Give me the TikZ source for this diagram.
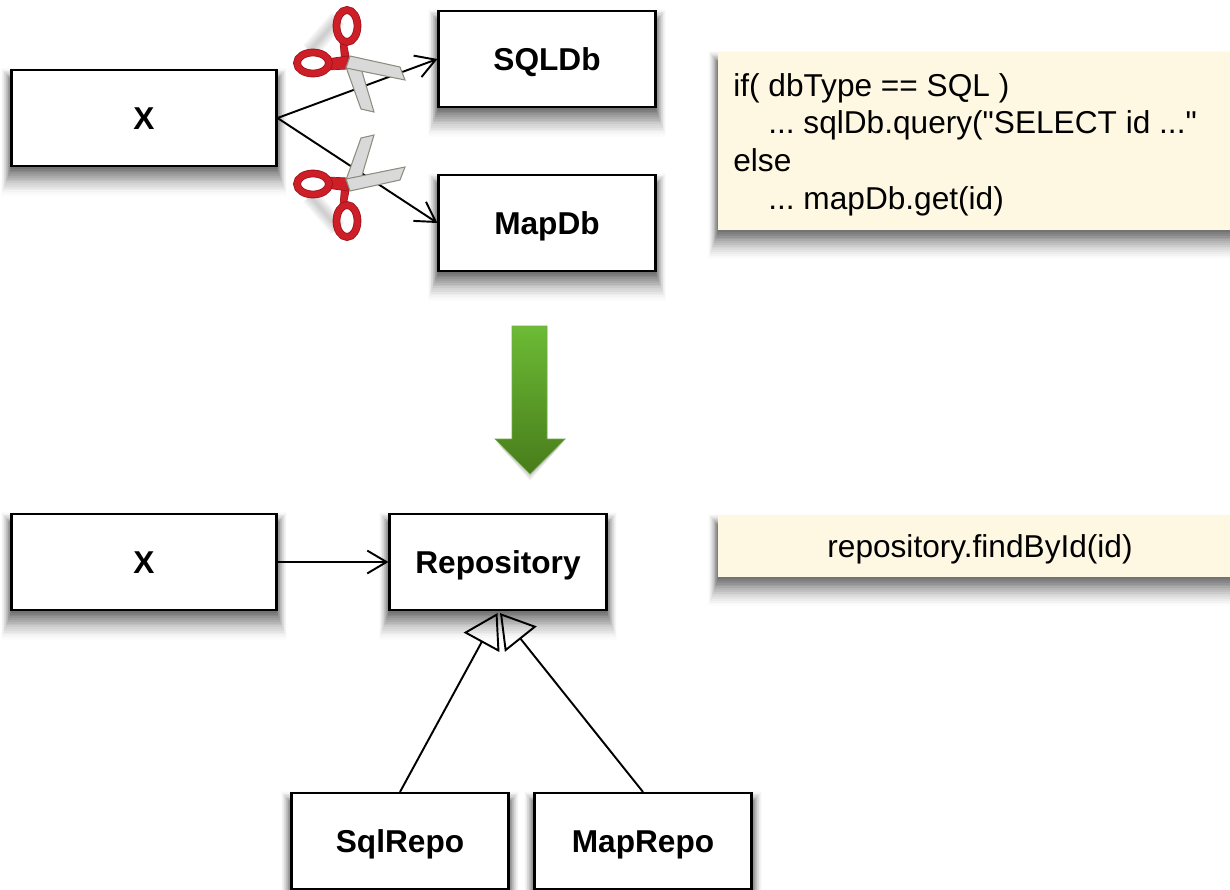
\documentclass[tikz,border=0pt]{standalone}
\usepackage{fontspec}
\setmainfont{Liberation Sans}[Ligatures=TeXOff]
\usetikzlibrary{arrows.meta, calc, backgrounds}

\definecolor{notefill}{HTML}{FEF8E2}
\definecolor{scissred}{HTML}{CE1F28}
\definecolor{scissdark}{HTML}{9E141C}
\definecolor{bladefill}{HTML}{D9D9D9}
\definecolor{bladeline}{HTML}{8C8C80}
\definecolor{arrowtop}{HTML}{6CBB35}
\definecolor{arrowbottom}{HTML}{487C1B}
\definecolor{arrowline}{HTML}{70AA46}

\frenchspacing
\tikzset{
    x=0.02cm, y=-0.02cm,
    classbox/.style={draw, line width=1.2pt, fill=white, minimum width=4.34cm, minimum height=1.92cm, inner sep=0pt, text height=12.9pt, text depth=0pt, font=\fontsize{18}{21.4}\selectfont\bfseries},
    widebox/.style={classbox, minimum width=5.3cm},
    notebox/.style={fill=notefill, inner sep=0pt},
    notetext/.style={inner sep=0pt, font=\fontsize{18}{21.4}\selectfont},
    link/.style={line width=1.1pt, -{Straight Barb[length=11pt,width=13pt,line width=1.1pt]}},
    isa/.style={line width=1.1pt, -{Triangle[open,length=19pt,width=23pt,line width=1.1pt]}},
    scissors/.pic={
        % the handles
        \foreach \w in {2,4,...,10}
            \draw[black, opacity=0.04, line width=\w pt] (-38,-12) -- (-10,-44);
        \fill[scissred, draw=scissdark, line width=0.4pt] (-8,-22) -- (-2,-22) -- (3,3) -- (-6,3) -- cycle;
        \fill[scissred, draw=scissdark, line width=0.4pt] (-22,-4) -- (0,-7) -- (0,6) -- (-20,7) -- cycle;
        \draw[scissdark, line width=4.4pt] (-1,-37) ellipse [x radius=10.5, y radius=16];
        \draw[scissred, line width=3.4pt] (-1,-37) ellipse [x radius=10.5, y radius=16];
        \draw[scissdark, line width=4.4pt] (-35,0) ellipse [x radius=16, y radius=10.5];
        \draw[scissred, line width=3.4pt] (-35,0) ellipse [x radius=16, y radius=10.5];
        % the blades
        \filldraw[fill=bladefill, draw=bladeline, line width=0.6pt] (-2,4) -- (12,2) -- (26,49) -- (13,46) -- cycle;
        \filldraw[fill=bladefill, draw=bladeline, line width=0.6pt] (2,-7) -- (52,4) -- (57,17) -- (-2,5) -- cycle;
    }
}

\begin{document}
\begin{tikzpicture}

    \clip (0,0) rectangle (1230,889);

    \node (xtop) [widebox] at (144,118) {X};
    \node (sqldb) [classbox] at (547,59) {SQLDb};
    \node (mapdb) [classbox] at (547,223) {MapDb};
    \node (xbottom) [widebox] at (144,562) {X};
    \node (repository) [classbox] at (498,562) {Repository};
    \node (sqlrepo) [classbox] at (400,841) {SqlRepo};
    \node (maprepo) [classbox] at (643,841) {MapRepo};

    \node (notetop) [notebox, minimum width=10.6cm, minimum height=3.56cm] at (983,141) {};
    \node (notebottom) [notebox, minimum width=10.6cm, minimum height=1.24cm] at (983,546) {};
    \node (codetop) [notetext, anchor=north west, align=left] at (733,73) {if( dbType == SQL )\\\hspace{0.7cm}... sqlDb.query("SELECT id ..."\\else\\\hspace{0.7cm}... mapDb.get(id)};
    \node (codebottom) [notetext, text height=12.9pt, text depth=0pt] at (980,546) {repository.findById(id)};

    \begin{scope}[on background layer]
        \foreach \n in {xtop,sqldb,mapdb,xbottom,repository,sqlrepo,maprepo,notetop,notebottom}
            \foreach \d [evaluate=\d as \e using \d*\d/16, evaluate=\d as \o using 0.085*(1-\d/17)+0.006] in {1,...,16}
                \fill[black, opacity=\o] ($(\n.north west)+(1-0.65*\e,12-0.8*\e)$) rectangle ($(\n.south east)+(0.65*\e-1,1.8*\e)$);
    \end{scope}

    \draw[link] (xtop.east) -- (sqldb.west);
    \draw[link] (xtop.east) -- (mapdb.west);
    \draw[link] (xbottom.east) -- (repository.west);

    \coordinate (tipleft) at ($(repository.south)+(-0.5,2)$);
    \coordinate (tipright) at ($(repository.south)+(2,2)$);
    \draw[isa] (sqlrepo.north) -- (tipleft);
    \draw[isa] (maprepo.north) -- (tipright);

    \pic at (348,63) {scissors};
    \pic[yscale=-1] at (348,184) {scissors};

    % the big arrow
    \foreach \d in {1,...,7}
        \fill[black, opacity=0.03] (512,350) -- (547,350) -- (547,441) -- (565-\d,441+\d) -- (530,474+\d) -- (495+\d,441+\d) -- (512,441) -- cycle;
    \shade[top color=arrowtop, bottom color=arrowbottom, draw=arrowline, line width=0.4pt]
        (512,326) -- (547,326) -- (547,439) -- (565,439) -- (530,474) -- (495,439) -- (512,439) -- cycle;

\end{tikzpicture}
\end{document}
